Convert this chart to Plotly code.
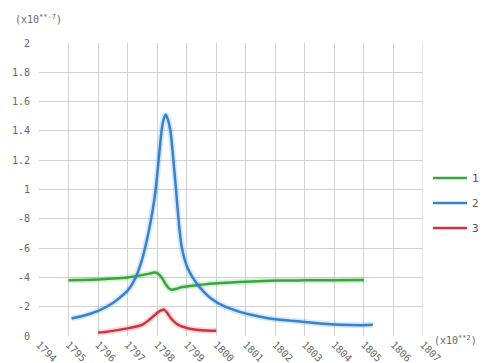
import plotly.graph_objects as go

# ---- data ----
green_x = [1795.0, 1795.5, 1796.0, 1796.5, 1797.0, 1797.4, 1797.7, 1797.9, 1798.0, 1798.1,
           1798.2, 1798.3, 1798.4, 1798.5, 1798.65, 1798.85, 1799.1, 1799.4, 1800.0,
           1800.5, 1801.0, 1801.8, 1802.5, 1803.0, 1804.0, 1805.0]
green_y = [0.380, 0.382, 0.386, 0.392, 0.400, 0.412, 0.424, 0.433, 0.430, 0.412,
           0.385, 0.350, 0.325, 0.315, 0.322, 0.334, 0.341, 0.348, 0.360,
           0.366, 0.371, 0.377, 0.379, 0.380, 0.381, 0.382]

blue_x = [1795.1, 1795.5, 1796.0, 1796.5, 1797.0, 1797.25, 1797.5, 1797.7, 1797.85, 1797.95,
          1798.05, 1798.15, 1798.22, 1798.29, 1798.36, 1798.45, 1798.55, 1798.63, 1798.7,
          1798.76, 1798.83, 1798.92, 1799.05, 1799.2, 1799.45, 1799.8, 1800.3, 1800.8,
          1801.3, 1801.8, 1802.5, 1803.0, 1803.5, 1804.0, 1804.5, 1805.0, 1805.3]
blue_y = [0.120, 0.138, 0.172, 0.225, 0.310, 0.390, 0.530, 0.700, 0.860, 1.000,
          1.200, 1.400, 1.480, 1.510, 1.480, 1.400, 1.200, 1.020, 0.850,
          0.720, 0.610, 0.530, 0.455, 0.400, 0.330, 0.260, 0.200, 0.165,
          0.140, 0.120, 0.105, 0.095, 0.085, 0.078, 0.075, 0.074, 0.076]

red_x = [1796.0, 1796.5, 1797.0, 1797.3, 1797.5, 1797.7, 1797.9, 1798.05, 1798.15, 1798.24,
         1798.33, 1798.45, 1798.6, 1798.75, 1799.0, 1799.2, 1799.5, 1800.0]
red_y = [0.023, 0.035, 0.052, 0.065, 0.078, 0.105, 0.140, 0.165, 0.176, 0.180,
         0.160, 0.125, 0.093, 0.072, 0.055, 0.046, 0.040, 0.036]

series = [("1", green_x, green_y, "#35a83a"),
          ("2", blue_x, blue_y, "#3382d4"),
          ("3", red_x, red_y, "#d5303e")]

x_ticks = list(range(1794, 1808))
y_tickvals = [0, 0.2, 0.4, 0.6, 0.8, 1.0, 1.2, 1.4, 1.6, 1.8, 2.0]
y_ticktext = ["0", "-2", "-4", "-6", "-8", "1", "1.2", "1.4", "1.6", "1.8", "2"]

fig = go.Figure()
# soft glow under each line
for name, xs, ys, col in series:
    fig.add_trace(go.Scatter(x=xs, y=ys, mode="lines",
                             line=dict(color=col, width=6, shape="spline", smoothing=0.6),
                             opacity=0.18, showlegend=False, hoverinfo="skip"))
for name, xs, ys, col in series:
    fig.add_trace(go.Scatter(x=xs, y=ys, mode="lines", name=name, legendgroup=name,
                             line=dict(color=col, width=2.5, shape="spline", smoothing=0.6)))

tick_font = dict(family="DejaVu Sans Mono", size=10, color="#666666")
# the page body adds an 8px offset, so the figure is 8px smaller each way
fig.update_layout(
    width=481, height=355,
    margin=dict(l=31, r=66, t=35, b=27, autoexpand=False),
    paper_bgcolor="white", plot_bgcolor="white",
    font=dict(family="DejaVu Sans Mono", size=11, color="#555555"),
    legend=dict(x=1.013, xanchor="left", y=0.454, yanchor="middle",
                tracegroupgap=6, itemwidth=34, font=dict(size=11, color="#555555"),
                bgcolor="rgba(0,0,0,0)"),
    xaxis=dict(range=[1794, 1807], tickvals=x_ticks, ticktext=[str(v) for v in x_ticks],
               tickangle=45, showgrid=True, gridcolor="#d2d2d2", gridwidth=1,
               zeroline=False, showline=False, tickfont=tick_font, ticks="",
               automargin=False),
    yaxis=dict(range=[0, 2], tickvals=y_tickvals, ticktext=y_ticktext,
               showgrid=True, gridcolor="#d2d2d2", gridwidth=1,
               zeroline=False, showline=False, tickfont=tick_font, ticks="",
               ticklabelstandoff=8, automargin=False),
    annotations=[
        dict(text="(x10<sup>**-7</sup>)", xref="paper", yref="paper", x=-0.068, y=1.055,
             xanchor="left", yanchor="bottom", showarrow=False,
             font=dict(family="DejaVu Sans Mono", size=10, color="#666666")),
        dict(text="(x10<sup>**2</sup>)", xref="paper", yref="paper", x=1.024, y=-0.015,
             xanchor="left", yanchor="middle", showarrow=False,
             font=dict(family="DejaVu Sans Mono", size=10, color="#666666")),
    ],
)
fig.add_shape(type="line", xref="x", yref="y", x0=1807, x1=1807, y0=0, y1=2,
              line=dict(color="#d2d2d2", width=1), layer="below")

fig.write_html("out.html")
